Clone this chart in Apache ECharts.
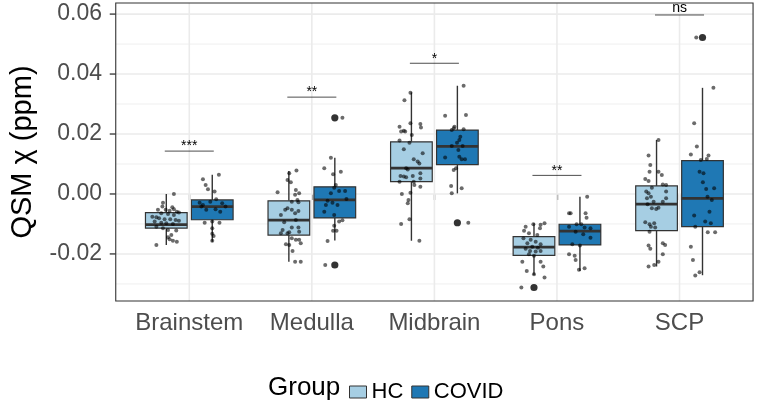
<!DOCTYPE html>
<html><head><meta charset="utf-8">
<script src="https://cdn.jsdelivr.net/npm/echarts@6/dist/echarts.min.js"></script>
<style>html,body{margin:0;padding:0;background:#fff}#c{width:757px;height:412px}</style>
</head><body><div id="c"></div>
<script>
const categories = ['Brainstem', 'Medulla', 'Midbrain', 'Pons', 'SCP'];
const groupNames = ['HC', 'COVID'];
const yTicks = [-0.02, 0, 0.02, 0.04, 0.06];
const yMinorTicks = [-0.03, -0.01, 0.01, 0.03, 0.05];
const yRange = [-0.0357, 0.0637];

// box stats per category: [lower whisker, Q1, median, Q3, upper whisker]
const hcBox = [
  [-0.0170, -0.0114, -0.0102, -0.0062, 0.0000],
  [-0.0226, -0.0137, -0.0087, -0.0023, 0.0077],
  [-0.0156, 0.0041, 0.0086, 0.0174, 0.0339],
  [-0.0270, -0.0205, -0.0177, -0.0142, -0.0098],
  [-0.0242, -0.0122, -0.0034, 0.0027, 0.0180]
];
const covidBox = [
  [-0.0159, -0.0086, -0.0042, -0.0020, 0.0064],
  [-0.0155, -0.0080, -0.0020, 0.0024, 0.0121],
  [0.0002, 0.0098, 0.0159, 0.0213, 0.0361],
  [-0.0257, -0.0170, -0.0124, -0.0101, -0.0009],
  [-0.0271, -0.0109, -0.0015, 0.0111, 0.0354]
];
// outliers: [category index, value]
const hcOutliers = [[3, -0.0312]];
const covidOutliers = [[1, 0.0254], [1, -0.0237], [2, -0.0096], [4, 0.0522]];

// jittered observations: [category index, jitter (in category widths), value]
const hcPoints = [
  [0,0.062,0.0000],[0,-0.027,-0.0029],[0,-0.032,-0.0042],[0,0.049,-0.0044],[0,0.062,-0.0051],[0,-0.068,-0.0053],
  [0,-0.005,-0.0053],[0,0.027,-0.0056],[0,0.086,-0.0059],[0,0.103,-0.0062],[0,-0.041,-0.0064],[0,0.014,-0.0067],
  [0,0.062,-0.0070],[0,-0.114,-0.0076],[0,-0.081,-0.0078],[0,-0.059,-0.0081],[0,-0.014,-0.0084],[0,0.032,-0.0084],
  [0,0.076,-0.0087],[0,0.103,-0.0089],[0,-0.095,-0.0092],[0,-0.041,-0.0096],[0,0.000,-0.0098],[0,0.054,-0.0100],
  [0,-0.081,-0.0109],[0,-0.027,-0.0114],[0,0.014,-0.0120],[0,0.081,-0.0122],[0,0.041,-0.0137],[0,0.014,-0.0144],
  [0,0.027,-0.0151],[0,0.054,-0.0156],[0,0.086,-0.0159],[0,-0.081,-0.0170],
  [1,0.062,0.0078],[1,0.003,0.0069],[1,-0.011,0.0047],[1,0.016,0.0039],[1,-0.092,0.0006],[1,0.057,0.0013],
  [1,0.084,0.0002],[1,0.051,-0.0003],[1,0.070,-0.0020],[1,0.024,-0.0026],[1,0.078,-0.0028],[1,-0.011,-0.0048],
  [1,-0.030,-0.0053],[1,0.024,-0.0053],[1,0.051,-0.0064],[1,0.078,-0.0057],[1,-0.065,-0.0070],[1,0.057,-0.0087],
  [1,-0.038,-0.0094],[1,0.078,-0.0112],[1,0.024,-0.0112],[1,-0.051,-0.0120],[1,0.003,-0.0128],[1,-0.065,-0.0131],
  [1,-0.011,-0.0131],[1,0.084,-0.0126],[1,0.024,-0.0148],[1,0.084,-0.0153],[1,0.097,-0.0164],[1,-0.024,-0.0168],
  [1,0.003,-0.0170],[1,0.030,-0.0190],[1,0.057,-0.0153],[1,0.051,-0.0226],[1,0.097,-0.0226],
  [2,-0.008,0.0338],[2,-0.057,0.0313],[2,-0.097,0.0224],[2,-0.084,0.0208],[2,-0.062,0.0211],[2,-0.051,0.0208],
  [2,-0.008,0.0236],[2,0.073,0.0233],[2,0.078,0.0222],[2,0.003,0.0197],[2,-0.097,0.0178],[2,-0.016,0.0171],
  [2,-0.062,0.0149],[2,0.092,0.0136],[2,0.019,0.0116],[2,0.051,0.0108],[2,0.065,0.0102],[2,-0.043,0.0086],
  [2,-0.030,0.0082],[2,0.073,0.0069],[2,-0.089,0.0060],[2,-0.062,0.0058],[2,-0.043,0.0056],[2,0.011,0.0060],
  [2,0.073,0.0052],[2,-0.097,0.0041],[2,0.019,0.0041],[2,0.024,0.0030],[2,0.073,0.0024],[2,-0.078,0.0000],
  [2,-0.008,0.0004],[2,-0.024,-0.0020],[2,-0.030,-0.0031],[2,-0.016,-0.0084],[2,-0.084,-0.0100],[2,0.065,-0.0156],
  [3,0.086,-0.0098],[3,-0.005,-0.0101],[3,0.054,-0.0103],[3,-0.068,-0.0109],[3,0.049,-0.0114],[3,-0.081,-0.0123],
  [3,-0.041,-0.0131],[3,0.027,-0.0137],[3,-0.086,-0.0148],[3,-0.027,-0.0153],[3,0.014,-0.0159],[3,-0.054,-0.0164],
  [3,0.054,-0.0168],[3,-0.014,-0.0176],[3,0.032,-0.0179],[3,-0.068,-0.0183],[3,-0.032,-0.0190],[3,0.014,-0.0192],
  [3,0.054,-0.0190],[3,-0.041,-0.0201],[3,0.000,-0.0206],[3,-0.095,-0.0226],[3,0.054,-0.0226],[3,0.076,-0.0242],
  [3,-0.059,-0.0257],[3,0.000,-0.0268],[3,0.086,-0.0279],[3,-0.103,-0.0312],
  [4,0.016,0.0180],[4,-0.065,0.0128],[4,-0.051,0.0097],[4,-0.057,0.0074],[4,0.016,0.0074],[4,0.043,0.0063],
  [4,-0.092,0.0050],[4,-0.065,0.0043],[4,0.051,0.0032],[4,0.078,0.0030],[4,-0.038,0.0021],[4,-0.084,0.0008],
  [4,-0.065,0.0002],[4,0.078,0.0008],[4,-0.046,-0.0009],[4,-0.078,-0.0014],[4,0.051,-0.0026],[4,0.078,-0.0014],
  [4,-0.024,-0.0026],[4,-0.073,-0.0034],[4,-0.038,-0.0048],[4,-0.003,-0.0050],[4,0.016,-0.0046],[4,-0.092,-0.0094],
  [4,-0.057,-0.0101],[4,-0.019,-0.0098],[4,-0.046,-0.0109],[4,-0.011,-0.0112],[4,-0.057,-0.0126],[4,-0.065,-0.0172],
  [4,0.051,-0.0164],[4,0.070,-0.0170],[4,-0.051,-0.0183],[4,0.051,-0.0201],[4,-0.065,-0.0242],[4,-0.019,-0.0237],
  [4,0.016,-0.0226]
];
const covidPoints = [
  [0,-0.076,0.0049],[0,0.054,0.0064],[0,-0.054,0.0030],[0,-0.035,0.0016],[0,0.019,0.0008],[0,-0.103,-0.0029],
  [0,-0.076,-0.0037],[0,-0.016,-0.0026],[0,0.032,-0.0018],[0,0.081,-0.0031],[0,0.108,-0.0042],[0,-0.049,-0.0053],
  [0,0.027,-0.0051],[0,0.065,-0.0059],[0,-0.089,-0.0042],[0,-0.062,-0.0096],[0,0.000,-0.0092],[0,0.059,-0.0096],
  [0,0.000,-0.0114],[0,0.000,-0.0133],[0,0.000,-0.0156],[0,0.011,-0.0140],
  [1,-0.032,0.0121],[1,-0.086,0.0086],[1,0.049,0.0074],[1,-0.014,0.0066],[1,0.008,0.0030],[1,-0.005,0.0021],
  [1,-0.032,0.0002],[1,0.035,0.0010],[1,0.084,0.0010],[1,0.095,-0.0017],[1,-0.059,-0.0023],[1,-0.019,-0.0029],
  [1,-0.073,-0.0037],[1,0.022,-0.0037],[1,-0.086,-0.0059],[1,-0.005,-0.0070],[1,0.035,-0.0092],[1,0.062,-0.0088],
  [1,-0.005,-0.0106],[1,-0.014,-0.0123],[1,0.014,-0.0123],[1,-0.059,-0.0157],[1,0.062,0.0254],[1,-0.078,-0.0237],
  [2,0.051,0.0361],[2,-0.100,0.0261],[2,0.070,0.0263],[2,-0.024,0.0224],[2,-0.046,0.0213],[2,-0.030,0.0219],
  [2,0.051,0.0216],[2,0.024,0.0191],[2,0.016,0.0180],[2,-0.003,0.0171],[2,-0.046,0.0160],[2,0.043,0.0160],
  [2,0.008,0.0147],[2,-0.100,0.0122],[2,0.016,0.0124],[2,0.035,0.0116],[2,0.062,0.0116],[2,-0.011,0.0086],
  [2,-0.030,0.0080],[2,-0.051,0.0027],[2,0.035,0.0019],[2,-0.046,0.0002],[2,0.089,-0.0096],
  [3,0.059,-0.0009],[3,-0.089,-0.0064],[3,-0.076,-0.0064],[3,0.046,-0.0064],[3,0.054,-0.0079],[3,-0.089,-0.0109],
  [3,-0.027,-0.0101],[3,0.011,-0.0101],[3,0.038,-0.0112],[3,0.086,-0.0114],[3,-0.035,-0.0126],[3,0.027,-0.0134],
  [3,0.086,-0.0146],[3,-0.062,-0.0168],[3,0.000,-0.0172],[3,-0.089,-0.0201],[3,-0.043,-0.0206],[3,-0.035,-0.0220],
  [3,0.038,-0.0248],[3,-0.008,-0.0253],
  [4,-0.051,0.0522],[4,0.089,0.0354],[4,-0.068,0.0236],[4,-0.046,0.0158],[4,-0.095,0.0132],[4,0.049,0.0128],
  [4,-0.014,0.0113],[4,0.035,0.0117],[4,-0.024,0.0074],[4,0.008,0.0069],[4,0.003,0.0039],[4,0.095,0.0019],
  [4,0.030,0.0017],[4,0.076,-0.0020],[4,0.041,-0.0009],[4,-0.068,-0.0072],[4,0.057,-0.0059],[4,0.022,-0.0092],
  [4,0.068,-0.0098],[4,0.043,-0.0128],[4,0.103,-0.0128],[4,-0.059,-0.0109],[4,-0.095,-0.0176],[4,-0.078,-0.0220],
  [4,-0.059,-0.0272],[4,-0.024,-0.0261]
];
// significance brackets
const sigY = [0.0143, 0.0323, 0.0436, 0.0062, 0.0597];
const sigLabels = ['***', '**', '*', '**', 'ns'];

const HC_COLOR = '#a6cee3';
const COVID_COLOR = '#1f78b4';
const DODGE = 0.1875;
const BOX_W = 0.34;
const EXPAND = 0.1;
const FONT = '"Liberation Sans", Arial, Helvetica, sans-serif';

const chart = echarts.init(document.getElementById('c'));

function panelRect(params, api) {
  const cs = params.coordSys;
  const ext = api.size([1, 0])[0] * EXPAND;
  return {x1: cs.x - ext, x2: cs.x + cs.width + ext, y1: cs.y, y2: cs.y + cs.height};
}

function boxRenderer(offset, color) {
  return function (params, api) {
    const cat = api.value(0);
    const band = api.size([1, 0])[0];
    const cx = api.coord([cat, 0])[0] + offset * band;
    const hw = BOX_W * band / 2;
    const y = i => api.coord([cat, api.value(i)])[1];
    const yLo = y(1), yQ1 = y(2), yMed = y(3), yQ3 = y(4), yHi = y(5);
    const stroke = '#333333';
    return {
      type: 'group',
      children: [
        {type: 'line', shape: {x1: cx, y1: yHi, x2: cx, y2: yQ3}, style: {stroke, lineWidth: 1.4}},
        {type: 'line', shape: {x1: cx, y1: yQ1, x2: cx, y2: yLo}, style: {stroke, lineWidth: 1.4}},
        {type: 'rect', shape: {x: cx - hw, y: yQ3, width: 2 * hw, height: yQ1 - yQ3}, style: {fill: color, stroke, lineWidth: 1.2}},
        {type: 'line', shape: {x1: cx - hw, y1: yMed, x2: cx + hw, y2: yMed}, style: {stroke, lineWidth: 2.8}}
      ]
    };
  };
}

function pointRenderer(offset, r, fill) {
  return function (params, api) {
    const cat = api.value(0);
    const band = api.size([1, 0])[0];
    const p = api.coord([cat, api.value(2)]);
    return {type: 'circle', shape: {cx: p[0] + (offset + api.value(1)) * band, cy: p[1], r}, style: {fill}};
  };
}

const series = [
  {type: 'custom', name: 'minor', silent: true, clip: false, z: 1,
   data: yMinorTicks.map(v => [0, v]), encode: {x: 0, y: 1},
   renderItem: (params, api) => {
     const pr = panelRect(params, api);
     const yy = api.coord([0, api.value(1)])[1];
     return {type: 'line', shape: {x1: pr.x1, y1: yy, x2: pr.x2, y2: yy}, style: {stroke: '#ebebeb', lineWidth: 0.8}};
   }},
  {type: 'custom', name: 'major', silent: true, clip: false, z: 1,
   data: yTicks.map(v => [0, v]), encode: {x: 0, y: 1},
   renderItem: (params, api) => {
     const pr = panelRect(params, api);
     const yy = api.coord([0, api.value(1)])[1];
     return {type: 'group', children: [
       {type: 'line', shape: {x1: pr.x1, y1: yy, x2: pr.x2, y2: yy}, style: {stroke: '#ebebeb', lineWidth: 1.6}},
       {type: 'line', shape: {x1: pr.x1 - 6, y1: yy, x2: pr.x1, y2: yy}, style: {stroke: '#333333', lineWidth: 1.3}}
     ]};
   }},
  {type: 'custom', name: 'vgrid', silent: true, clip: false, z: 1,
   data: categories.map((c, i) => [i, 0]), encode: {x: 0, y: 1},
   renderItem: (params, api) => {
     const pr = panelRect(params, api);
     const xx = api.coord([api.value(0), 0])[0];
     return {type: 'line', shape: {x1: xx, y1: pr.y1, x2: xx, y2: pr.y2}, style: {stroke: '#ebebeb', lineWidth: 1.6}};
   }},
  {type: 'custom', name: 'HC', clip: false, z: 3, itemStyle: {color: HC_COLOR},
   data: hcBox.map((s, i) => [i].concat(s)), encode: {x: 0, y: [1, 2, 3, 4, 5]},
   renderItem: boxRenderer(-DODGE, HC_COLOR)},
  {type: 'custom', name: 'COVID', clip: false, z: 3, itemStyle: {color: COVID_COLOR},
   data: covidBox.map((s, i) => [i].concat(s)), encode: {x: 0, y: [1, 2, 3, 4, 5]},
   renderItem: boxRenderer(DODGE, COVID_COLOR)},
  {type: 'custom', name: 'hcOut', silent: true, clip: false, z: 4,
   data: hcOutliers.map(o => [o[0], 0, o[1]]), encode: {x: 0, y: 2},
   renderItem: pointRenderer(-DODGE, 3.6, '#333333')},
  {type: 'custom', name: 'covidOut', silent: true, clip: false, z: 4,
   data: covidOutliers.map(o => [o[0], 0, o[1]]), encode: {x: 0, y: 2},
   renderItem: pointRenderer(DODGE, 3.6, '#333333')},
  {type: 'custom', name: 'hcPts', silent: true, clip: false, z: 5,
   data: hcPoints, encode: {x: 0, y: 2},
   renderItem: pointRenderer(-DODGE, 2.0, 'rgba(0,0,0,0.58)')},
  {type: 'custom', name: 'covidPts', silent: true, clip: false, z: 5,
   data: covidPoints, encode: {x: 0, y: 2},
   renderItem: pointRenderer(DODGE, 2.0, 'rgba(0,0,0,0.58)')},
  {type: 'custom', name: 'sig', silent: true, clip: false, z: 6,
   data: sigY.map((v, i) => [i, v]), encode: {x: 0, y: 1},
   renderItem: (params, api) => {
     const band = api.size([1, 0])[0];
     const p = api.coord([api.value(0), api.value(1)]);
     const lab = sigLabels[params.dataIndex];
     const isNs = lab === 'ns';
     return {type: 'group', children: [
       {type: 'line', shape: {x1: p[0] - 0.2 * band, y1: p[1], x2: p[0] + 0.2 * band, y2: p[1]}, style: {stroke: '#000', lineWidth: 0.7}},
       {type: 'text', style: {text: lab, x: p[0], y: isNs ? p[1] - 7 : p[1] - 4.5, align: 'center', verticalAlign: 'middle',
         fontSize: isNs ? 14 : 14, fontFamily: FONT, fill: '#000'}}
     ]};
   }},
  {type: 'custom', name: 'border', silent: true, clip: false, z: 7,
   data: [[0, 0]], encode: {x: 0, y: 1},
   renderItem: (params, api) => {
     const pr = panelRect(params, api);
     return {type: 'rect', shape: {x: pr.x1, y: pr.y1, width: pr.x2 - pr.x1, height: pr.y2 - pr.y1},
       style: {fill: 'none', stroke: '#333333', lineWidth: 1.1}};
   }}
];

chart.setOption({
  animation: false,
  backgroundColor: '#ffffff',
  grid: {left: 127.3, right: 16.2, top: 3, bottom: 111},
  xAxis: {
    type: 'category', data: categories, boundaryGap: true,
    axisLine: {show: false},
    axisTick: {show: true, alignWithLabel: true, length: 6, lineStyle: {color: '#333333', width: 1.3}},
    axisLabel: {color: '#4d4d4d', fontSize: 24, fontFamily: FONT, margin: 10, interval: 0},
    splitLine: {show: false}
  },
  yAxis: {
    type: 'value', min: yRange[0], max: yRange[1], splitNumber: 5,
    name: 'QSM χ (ppm)', nameLocation: 'middle', nameGap: 91, nameRotate: 90,
    nameTextStyle: {color: '#000', fontSize: 29, fontFamily: FONT},
    axisLine: {show: false}, axisTick: {show: false}, splitLine: {show: false},
    axisLabel: {
      color: '#4d4d4d', fontSize: 23, fontFamily: FONT, margin: 26,
      showMinLabel: false, showMaxLabel: false,
      formatter: v => yTicks.some(t => Math.abs(t - v) < 1e-6) ? v.toFixed(2) : ''
    }
  },
  legend: {
    data: groupNames, left: 344, top: 376, orient: 'horizontal',
    icon: 'rect', itemWidth: 17, itemHeight: 12, itemGap: 8,
    itemStyle: {borderColor: '#333333', borderWidth: 1},
    textStyle: {color: '#000', fontSize: 22, fontFamily: FONT}
  },
  graphic: [{
    type: 'text', silent: true,
    style: {text: 'Group', x: 268, y: 388, verticalAlign: 'middle', align: 'left', fontSize: 26, fontFamily: FONT, fill: '#000'}
  }],
  series
});
</script></body></html>
